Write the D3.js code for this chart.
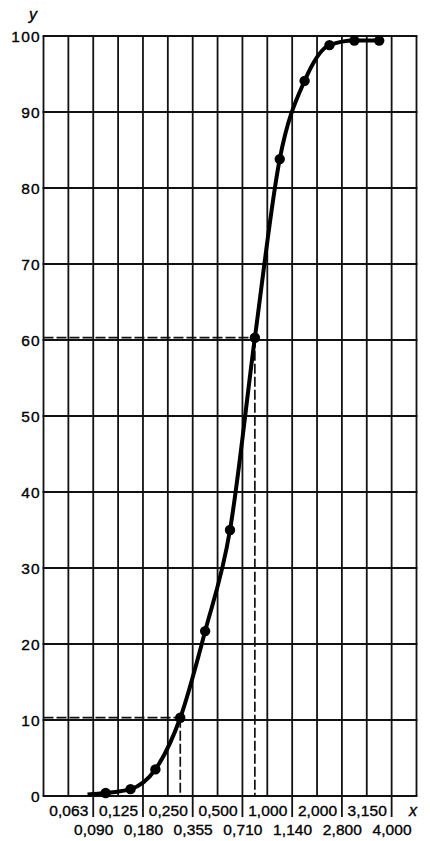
<!DOCTYPE html>
<html>
<head>
<meta charset="utf-8">
<script src="https://cdn.jsdelivr.net/npm/d3@7"></script>
<style>
  html, body { margin: 0; padding: 0; background: #fff; }
  svg { display: block; }
  text { font-family: "Liberation Sans", Arial, Helvetica, sans-serif; fill: #000; stroke: #000; stroke-width: 0.35px; }
</style>
</head>
<body>
<svg id="chart" width="430" height="841"></svg>
<script>
// ---- data ----
const sieveLabels = ["0,063","0,090","0,125","0,180","0,250","0,355","0,500","0,710","1,000","1,140","2,000","2,800","3,150","4,000"];
const yTicks = [0,10,20,30,40,50,60,70,80,90,100];
// cumulative passing (%) plotted between consecutive sieves, starting between 0,090 and 0,125
const intervalStart = ["0,090","0,125","0,180","0,250","0,355","0,500","0,710","1,000","1,140","2,000","2,800","3,150"];
const passing = [0.4, 0.9, 3.5, 10.3, 21.7, 35.0, 60.3, 83.8, 94.1, 98.8, 99.4, 99.4];
// curve lead-in (category index units, value)
const curveStart = [0.77, 0.2];
// points with dashed reference lines (index in passing)
const refPoints = [3, 6];

// ---- layout ----
const svg = d3.select("#chart");
const x = d3.scaleLinear().domain([-1, sieveLabels.length]).range([43.5, 416.5]);
const y = d3.scaleLinear().domain([0, 100]).range([796, 36]);
const ink = "#111";

// horizontal grid
svg.append("g").selectAll("line").data(yTicks).join("line")
  .attr("x1", x(-1) - 0.9).attr("x2", x(sieveLabels.length) + 0.9)
  .attr("y1", d => y(d)).attr("y2", d => y(d))
  .attr("stroke", ink).attr("stroke-width", 1.8);

// vertical grid (borders + each sieve)
const vIdx = d3.range(-1, sieveLabels.length + 1);
svg.append("g").selectAll("line").data(vIdx).join("line")
  .attr("x1", d => x(d)).attr("x2", d => x(d))
  .attr("y1", y(100)).attr("y2", d => (d >= 0 && d < sieveLabels.length && d % 2 === 1) ? y(0) + 21 : y(0))
  .attr("stroke", ink).attr("stroke-width", 1.8);

// y labels
svg.append("g").selectAll("text").data(yTicks).join("text")
  .attr("x", 41).attr("y", d => y(d) + 6)
  .attr("text-anchor", "end")
  .style("font-size", "15.5px").style("letter-spacing", "1.3px")
  .text(d => d);

// x labels (two rows)
svg.append("g").selectAll("text").data(sieveLabels).join("text")
  .attr("x", (d, i) => x(i) + 0.5)
  .attr("y", (d, i) => i % 2 === 0 ? 815.5 : 835)
  .attr("text-anchor", "middle")
  .style("font-size", "15.5px").style("letter-spacing", "0.1px")
  .text(d => d);

// axis names
svg.append("text").attr("x", 413).attr("y", 815.5).attr("text-anchor", "middle")
  .style("font-size", "16px").style("font-style", "italic").text("x");
svg.append("text").attr("x", 33).attr("y", 20).attr("text-anchor", "middle")
  .style("font-size", "16px").style("font-style", "italic").text("y");

// points
const pts = passing.map((v, i) => {
  const k = sieveLabels.indexOf(intervalStart[i]);
  return [k + 0.5, v];
});

// dashed reference lines
const refG = svg.append("g").attr("fill", "none").attr("stroke", ink)
  .attr("stroke-width", 1.7).attr("stroke-dasharray", "10,3");
refPoints.forEach(r => {
  const p = pts[r];
  refG.append("line").attr("x1", x(-1)).attr("x2", x(p[0]))
    .attr("y1", y(p[1])).attr("y2", y(p[1]));
  refG.append("line").attr("x1", x(p[0])).attr("x2", x(p[0]))
    .attr("y1", y(p[1])).attr("y2", y(0));
});

// curve
const line = d3.line().x(d => x(d[0])).y(d => y(d[1])).curve(d3.curveMonotoneX);
svg.append("path").datum([curveStart].concat(pts))
  .attr("d", line).attr("fill", "none").attr("stroke", "#000")
  .attr("stroke-width", 4).attr("stroke-linejoin", "round");

svg.append("g").selectAll("circle").data(pts).join("circle")
  .attr("cx", d => x(d[0])).attr("cy", d => y(d[1])).attr("r", 5.2)
  .attr("fill", "#000");
</script>
</body>
</html>
